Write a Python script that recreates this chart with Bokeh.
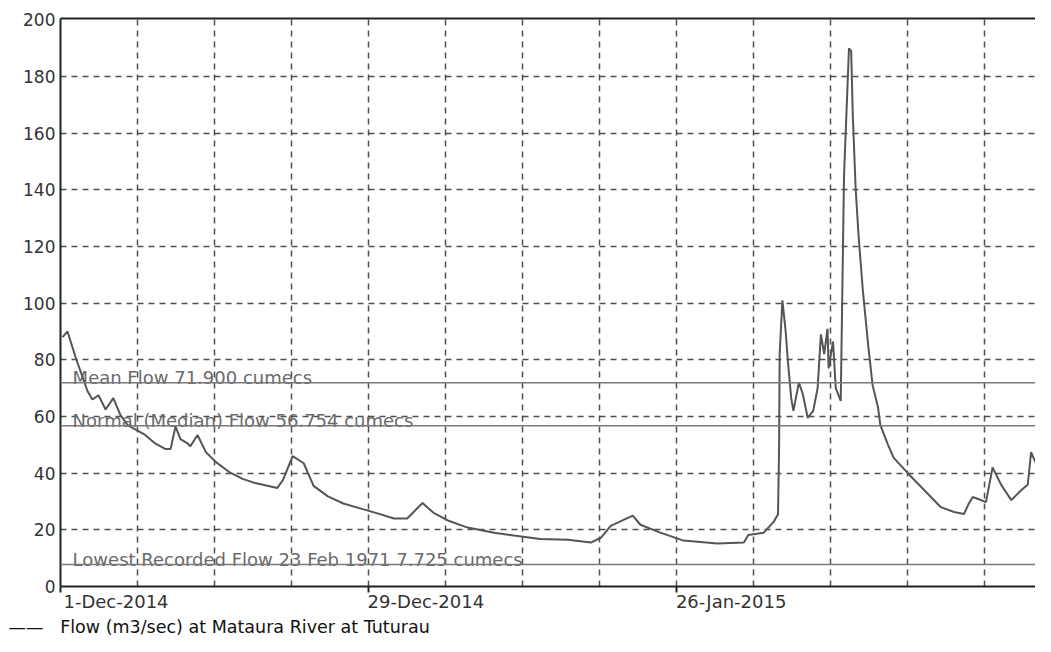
from bokeh.plotting import figure
from bokeh.models import Span, FixedTicker, LinearAxis, Range1d, Title
from bokeh.embed import file_html
from bokeh.resources import INLINE
from bokeh.core.properties import value

# Days since 1-Dec-2014 and flow (m3/sec), Mataura River at Tuturau
day_offsets = [0.18, 0.64, 1.36, 2.0, 2.45, 2.9, 3.45, 4.1, 4.8, 5.45, 6.1, 7.0, 7.7, 8.6,
               9.55, 10.0, 10.45, 10.9, 11.55, 11.8, 12.45, 13.2, 14.1, 15.3, 16.55, 17.7,
               18.9, 19.7, 20.2, 21.1, 22.1, 23.0, 24.3, 25.7, 27.3, 28.8, 30.3, 31.5, 32.9,
               33.9, 35.2, 37.0, 39.4, 41.2, 43.6, 46.1, 48.2, 49.1, 50.0, 52.0, 52.7, 54.5,
               56.6, 59.7, 62.1, 62.5, 63.9, 64.8, 65.2, 65.3, 65.35, 65.6, 65.9, 66.1, 66.4,
               66.6, 67.1, 67.45, 67.9, 68.4, 68.8, 69.1, 69.4, 69.7, 69.8, 70.2, 70.45, 70.9,
               71.2, 71.45, 71.65, 71.85, 72.0, 72.25, 72.5, 72.9, 73.4, 73.8, 74.3, 74.5,
               75.2, 75.7, 77.0, 78.5, 80.0, 81.2, 82.1, 82.5, 82.9, 83.4, 84.1, 84.7, 85.5,
               86.4, 87.3, 87.9, 88.2, 88.8, 90.0]
flow = [88, 90, 81, 74, 69, 66, 67.5, 62.5, 66.5, 60.5, 57, 55, 53.5, 50.5,
        48.5, 48.5, 56.5, 52, 50.5, 49.5, 53.5, 47.5, 44, 40.5, 38, 36.5,
        35.5, 34.8, 37.5, 46, 43.5, 35.5, 31.8, 29.3, 27.5, 25.8, 24, 24, 29.5,
        26, 23.3, 20.8, 19, 18, 16.8, 16.5, 15.5, 17.2, 21.4, 25, 21.8, 19,
        16.2, 15.2, 15.5, 18.2, 19, 22.8, 25.5, 49, 82, 101, 90, 79.5, 66.5,
        62, 72, 68, 59.5, 62, 70, 89, 82, 91, 77, 86.5, 70, 65.5,
        145, 170, 190, 189, 166, 141, 125, 105, 85, 71, 63, 57,
        50, 45.5, 40, 34, 28, 26.3, 25.6, 29, 31.6, 30.9, 29.8, 42, 35.8,
        30.5, 34, 36, 47.4, 42, 34]

tick_days = [0, 28, 56]
tick_labels = ["1-Dec-2014", "29-Dec-2014", "26-Jan-2015"]
grid_days = [7, 14, 21, 28, 35, 42, 49, 56, 63, 70, 77, 84]
y_ticks = [0, 20, 40, 60, 80, 100, 120, 140, 160, 180, 200]
y_grid = [20, 40, 60, 80, 100, 120, 140, 160, 180]
ref_levels = [71.9, 56.754, 7.725]
ref_labels = ["Mean Flow 71.900 cumecs",
              "Normal (Median) Flow 56.754 cumecs",
              "Lowest Recorded Flow 23 Feb 1971 7.725 cumecs"]
series_label = "Flow (m3/sec) at Mataura River at Tuturau"

FONT = "DejaVu Sans"
FS = "\u2007"   # figure space: left padding so centred labels start at their tick
label_pads = [FS * 5 + "\u00a0", FS * 10, FS * 9 + "\u00a0"]

p = figure(width=1035, height=636, x_range=Range1d(0, 88.6), y_range=Range1d(0, 200.5),
           output_backend="svg", toolbar_location=None,
           min_border_left=60, min_border_right=0, min_border_top=18, min_border_bottom=44)
p.outline_line_color = None
p.background_fill_color = "white"
p.border_fill_color = "white"

# x axis
p.xaxis.ticker = FixedTicker(ticks=tick_days)
p.xaxis.major_label_overrides = {d: pad + lab for d, pad, lab in zip(tick_days, label_pads, tick_labels)}
p.xaxis.major_tick_out = 6
p.xaxis.major_tick_in = 0
p.xaxis.minor_tick_line_color = None
p.xaxis.major_label_standoff = -2
p.xaxis.axis_line_width = 2
p.xaxis.axis_line_color = "#222222"
p.xaxis.major_tick_line_color = "#222222"
p.xaxis.major_tick_line_width = 2
p.xaxis.major_label_text_font = FONT
p.xaxis.major_label_text_font_size = "18px"
p.xaxis.major_label_text_color = "#333333"

# y axis
p.yaxis.ticker = FixedTicker(ticks=y_ticks)
p.yaxis.major_tick_out = 0
p.yaxis.major_tick_in = 0
p.yaxis.minor_tick_line_color = None
p.yaxis.major_label_standoff = 5
p.yaxis.axis_line_width = 2
p.yaxis.axis_line_color = "#222222"
p.yaxis.major_label_text_font = FONT
p.yaxis.major_label_text_font_size = "17px"
p.yaxis.major_label_text_color = "#333333"

# top border
top_axis = LinearAxis(ticker=FixedTicker(ticks=[]), major_tick_out=0, major_tick_in=0,
                      minor_tick_out=0, minor_tick_in=0, major_label_text_font_size="0px",
                      axis_line_width=2, axis_line_color="#222222")
p.add_layout(top_axis, "above")

# grids
p.xgrid.ticker = FixedTicker(ticks=grid_days)
p.ygrid.ticker = FixedTicker(ticks=y_grid)
for g in (p.xgrid, p.ygrid):
    g.grid_line_color = "#333333"
    g.grid_line_dash = "6 5"
    g.grid_line_width = 1.5
    g.grid_line_alpha = 0.85

# reference lines
for lvl in ref_levels:
    p.add_layout(Span(location=lvl, dimension="width", line_color="#7a7a7a", line_width=1.5))
p.text(x=[1.1] * len(ref_levels), y=ref_levels, text=ref_labels,
       text_font=value(FONT), text_font_size="18px", text_color="#6a6a6a",
       text_baseline="alphabetic", text_align="left", y_offset=-5)

p.line(day_offsets, flow, line_color="#555555", line_width=2)

# legend-like caption under the axis
key = Title(text="\u2014\u2014\u00a0\u00a0\u00a0" + series_label, align="left", offset=-52,
            standoff=0, text_font=FONT, text_font_size="17.5px", text_font_style="normal",
            text_color="#111111")
p.add_layout(key, "below")

open("out.html", "w").write(file_html(p, INLINE))
